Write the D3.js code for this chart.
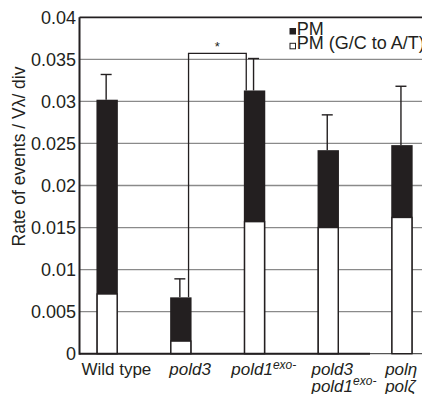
<!DOCTYPE html>
<html>
<head>
<meta charset="utf-8">
<script src="https://cdn.jsdelivr.net/npm/d3@7"></script>
<style>
  body { margin: 0; background: #fff; }
  svg { display: block; font-family: "Liberation Sans", Arial, sans-serif; }
</style>
</head>
<body>
<div id="chart"></div>
<script>
// data
const categories = ["wt", "pold3", "pold1exo", "pold3_pold1exo", "poleta_polzeta"];
const pmTotal = [0.0302, 0.0067, 0.0313, 0.0242, 0.0248];   // black bar top (all PM)
const pmGC = [0.0071, 0.0015, 0.0157, 0.0150, 0.0162];      // white part (G/C to A/T)
const pmErr = [0.0332, 0.0089, 0.0351, 0.0284, 0.0318];     // error bar top
const yTicks = [0, 0.005, 0.01, 0.015, 0.02, 0.025, 0.03, 0.035, 0.04];
const yTickLabels = ["0", "0.005", "0.01", "0.015", "0.02", "0.025", "0.03", "0.035", "0.04"];
// x labels: each line is a list of [text, superscript]
const xLabels = [
    [["Wild type", ""]],
    [["pold3", ""]],
    [["pold1", "exo-"]],
    [["pold3", ""], ["pold1", "exo-"]],
    [["polη", ""], ["polζ", ""]]
];
const legendLabels = ["PM", "PM (G/C to A/T)"];
const sigPair = [1, 2];
const sigLevel = 0.0357;

const W = 422, H = 394;
const margin = { left: 79.5, top: 17.3, bottom: 353.7 };
const step = 73.7;

const svg = d3.select("#chart")
    .append("svg")
    .attr("width", W)
    .attr("height", H);

const x = d3.scaleBand()
    .domain(categories)
    .range([margin.left, margin.left + step * categories.length])
    .padding(0);

const y = d3.scaleLinear()
    .domain([0, 0.04])
    .range([margin.bottom, margin.top]);

const barW = 21.4;
const barCenter = c => x(c) + x.bandwidth() / 2 - 9.2;

// gridlines
svg.append("g")
    .selectAll("line")
    .data(yTicks.slice(0, -1))
    .enter()
    .append("line")
    .attr("x1", margin.left)
    .attr("x2", W)
    .attr("y1", d => y(d))
    .attr("y2", d => y(d))
    .attr("stroke", d => d === 0 ? "#555" : "#8a8a8a")
    .attr("stroke-width", 1.3);

// top frame line
svg.append("line")
    .attr("x1", margin.left).attr("x2", W)
    .attr("y1", y(0.04)).attr("y2", y(0.04))
    .attr("stroke", "#231f20")
    .attr("stroke-width", 1.8);

// y tick labels
svg.append("g")
    .selectAll("text")
    .data(yTicks)
    .enter()
    .append("text")
    .attr("x", margin.left - 3.5)
    .attr("y", d => y(d))
    .attr("dy", "0.36em")
    .attr("text-anchor", "end")
    .attr("font-size", 18)
    .attr("fill", "#231f20")
    .text((d, i) => yTickLabels[i]);

// y axis title
svg.append("text")
    .attr("transform", `translate(25, ${(63 + 250) / 2}) rotate(-90)`)
    .attr("text-anchor", "middle")
    .attr("font-size", 17.5)
    .attr("fill", "#231f20")
    .text("Rate of events / Vλ/ div");

// error bars (drawn under bars)
const err = svg.append("g")
    .attr("stroke", "#231f20")
    .attr("stroke-width", 1.4);
categories.forEach((c, i) => {
    const cx = barCenter(c) - 1;
    err.append("line")
        .attr("x1", cx).attr("x2", cx)
        .attr("y1", y(pmTotal[i])).attr("y2", y(pmErr[i]));
    err.append("line")
        .attr("x1", cx - 5.5).attr("x2", cx + 5.5)
        .attr("y1", y(pmErr[i])).attr("y2", y(pmErr[i]));
});

// black part (total PM)
svg.append("g")
    .selectAll("rect")
    .data(categories)
    .enter()
    .append("rect")
    .attr("x", d => barCenter(d) - barW / 2)
    .attr("y", (d, i) => y(pmTotal[i]))
    .attr("width", barW)
    .attr("height", (d, i) => y(0) - y(pmTotal[i]))
    .attr("fill", "#231f20");

// white part (G/C to A/T)
svg.append("g")
    .selectAll("rect")
    .data(categories)
    .enter()
    .append("rect")
    .attr("x", d => barCenter(d) - barW / 2 + 0.7)
    .attr("y", (d, i) => y(pmGC[i]))
    .attr("width", barW - 1.4)
    .attr("height", (d, i) => y(0) - y(pmGC[i]))
    .attr("fill", "#fff")
    .attr("stroke", "#231f20")
    .attr("stroke-width", 1.4);

// axes lines
svg.append("line")
    .attr("x1", margin.left).attr("x2", margin.left)
    .attr("y1", y(0.04)).attr("y2", y(0) + 1)
    .attr("stroke", "#231f20")
    .attr("stroke-width", 2);
svg.append("line")
    .attr("x1", margin.left).attr("x2", 370)
    .attr("y1", y(0)).attr("y2", y(0))
    .attr("stroke", "#231f20")
    .attr("stroke-width", 2);

// significance bracket
const a = categories[sigPair[0]], b = categories[sigPair[1]];
const bx1 = barCenter(a) + barW / 2 - 3;
const bx2 = barCenter(b) - barW / 2 + 2.4;
svg.append("path")
    .attr("d", `M${bx1},${y(pmTotal[sigPair[0]])} V${y(sigLevel)} H${bx2} V${y(pmTotal[sigPair[1]])}`)
    .attr("fill", "none")
    .attr("stroke", "#231f20")
    .attr("stroke-width", 1.3);
svg.append("text")
    .attr("x", (bx1 + bx2) / 2)
    .attr("y", y(sigLevel) - 2)
    .attr("text-anchor", "middle")
    .attr("font-size", 13)
    .attr("fill", "#231f20")
    .text("*");

// x labels
const xl = svg.append("g")
    .attr("font-size", 17)
    .attr("fill", "#231f20");
xLabels.forEach((lines, i) => {
    const cx = x(categories[i]) + x.bandwidth() / 2;
    lines.forEach((ln, j) => {
        const t = xl.append("text")
            .attr("y", 375 + j * 16.5);
        if (lines.length > 1) {
            t.attr("x", cx - 26).attr("text-anchor", "start");
        } else {
            t.attr("x", cx).attr("text-anchor", "middle");
        }
        if (i > 0) t.attr("font-style", "italic");
        t.append("tspan").text(ln[0]);
        if (ln[1]) {
            t.append("tspan")
                .attr("dy", -6.5)
                .attr("font-size", 12)
                .text(ln[1]);
        }
    });
});

// legend
const lg = svg.append("g").attr("transform", "translate(289.5, 28.5)");
legendLabels.forEach((name, i) => {
    lg.append("rect")
        .attr("x", 0.5)
        .attr("y", i * 14.8)
        .attr("width", 5.5)
        .attr("height", 5.5)
        .attr("fill", i === 0 ? "#231f20" : "#fff")
        .attr("stroke", "#231f20")
        .attr("stroke-width", 1);
    lg.append("text")
        .attr("x", 7.3)
        .attr("y", i * 14.8 + 6)
        .attr("font-size", 18)
        .attr("fill", "#231f20")
        .text(name);
});
</script>
</body>
</html>
